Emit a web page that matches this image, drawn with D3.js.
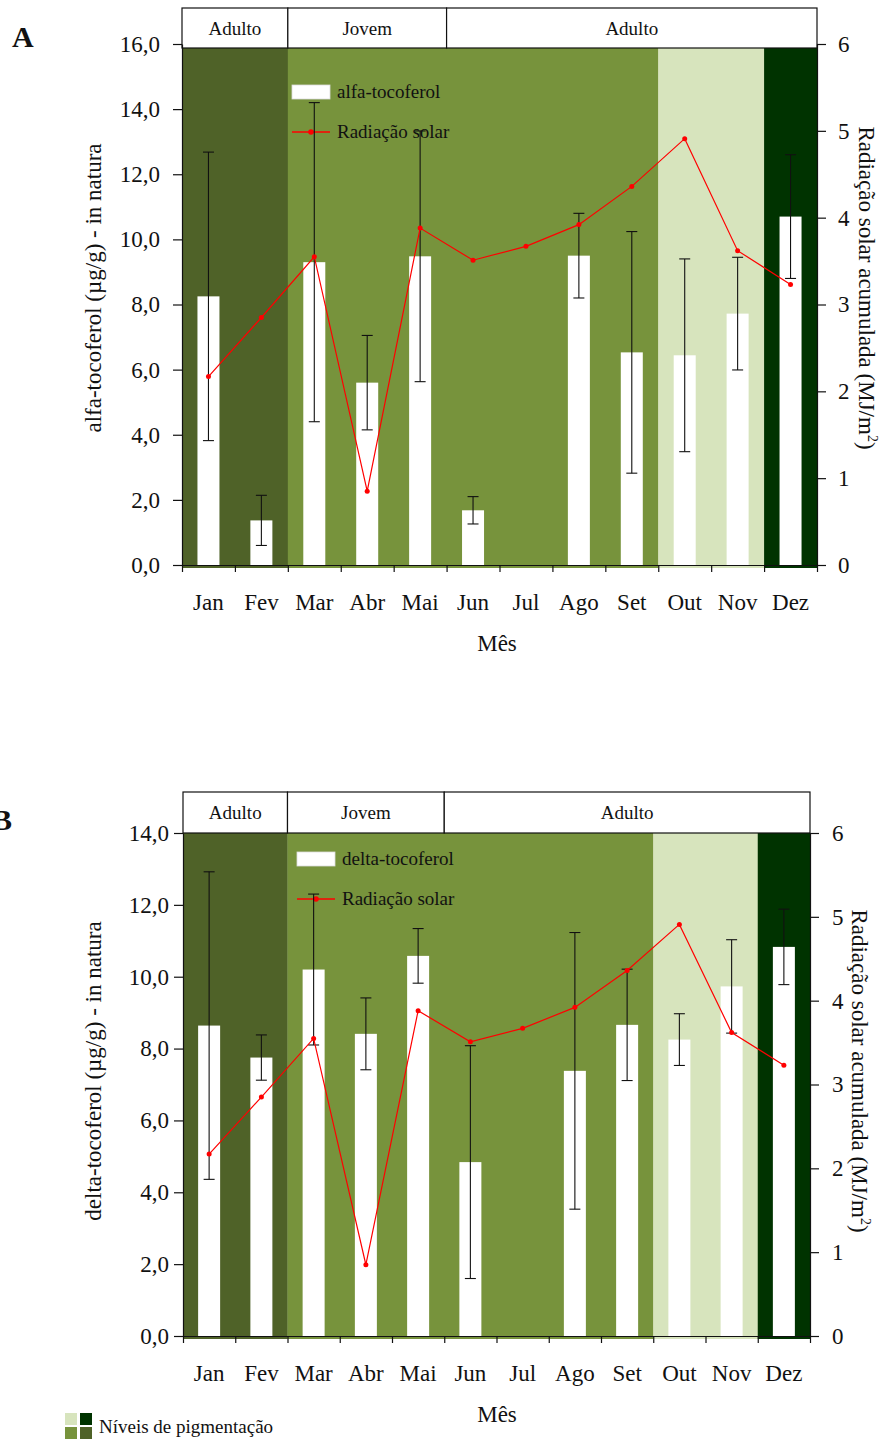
<!DOCTYPE html>
<html>
<head>
<meta charset="utf-8">
<script src="https://cdn.jsdelivr.net/npm/d3@7"></script>
<style>
  body { margin: 0; background: #fff; }
  svg { font-family: "Liberation Serif", "Times New Roman", serif; }
</style>
</head>
<body>
<svg id="chart" width="882" height="1441"></svg>
<script>
// dados
const months = ['Jan','Fev','Mar','Abr','Mai','Jun','Jul','Ago','Set','Out','Nov','Dez'];
const alfaMean  = [8.25, 1.37, 9.30, 5.60, 9.48, 1.68, 0, 9.50, 6.53, 6.44, 7.72, 10.70];
const alfaErr   = [4.43, 0.77, 4.90, 1.45, 3.85, 0.42, 0, 1.30, 3.71, 2.96, 1.73, 1.90];
const deltaMean = [8.64, 7.75, 10.20, 8.41, 10.58, 4.84, 0, 7.38, 8.66, 8.25, 9.73, 10.83];
const deltaErr  = [4.28, 0.63, 2.10, 1.00, 0.76, 3.24, 0, 3.85, 1.55, 0.72, 1.30, 1.05];
const radiacao  = [2.17, 2.85, 3.55, 0.85, 3.88, 3.51, 3.67, 3.92, 4.36, 4.91, 3.62, 3.23];
const pigmento  = [1, 1, 2, 2, 2, 2, 2, 2, 2, 0, 0, 3];
const pigColors = ['#d7e4bd', '#4f6228', '#77933c', '#003300'];
const fases = [
  {nome: 'Adulto', ini: 0, fim: 2},
  {nome: 'Jovem',  ini: 2, fim: 5},
  {nome: 'Adulto', ini: 5, fim: 12}
];
const leftTicksA = [0, 2, 4, 6, 8, 10, 12, 14, 16];
const leftTicksB = [0, 2, 4, 6, 8, 10, 12, 14];
const rightTicks = [0, 1, 2, 3, 4, 5, 6];

const svg = d3.select('#chart');
const fmt = d => d3.format('.1f')(d).replace('.', ',');

// junta meses seguidos com o mesmo nivel
const faixas = [];
pigmento.forEach((p, i) => {
  const last = faixas[faixas.length - 1];
  if (last && last.p === p) last.fim = i + 1;
  else faixas.push({p: p, ini: i, fim: i + 1});
});

function painel(c) {
  const g = svg.append('g');
  const x  = d3.scaleBand().domain(months).range([c.left, c.right]);
  const xb = d3.scaleLinear().domain([0, 12]).range([c.left, c.right]);
  const y  = d3.scaleLinear().domain([0, c.yMax]).range([c.bottom, c.top]);
  const y2 = d3.scaleLinear().domain([0, 6]).range([c.bottom, c.top]);
  const cx = d => x(d) + x.bandwidth() / 2;

  // faixas de pigmentacao
  g.selectAll('.faixa').data(faixas).join('rect')
    .attr('class', 'faixa')
    .attr('x', d => xb(d.ini)).attr('width', d => xb(d.fim) - xb(d.ini) + 0.3)
    .attr('y', c.headBot).attr('height', c.bottom + 3 - c.headBot)
    .attr('fill', d => pigColors[d.p]);

  // barras
  const bw = 22;
  g.selectAll('.barra').data(months).join('rect')
    .attr('class', 'barra')
    .attr('x', d => cx(d) - bw / 2).attr('width', bw)
    .attr('y', (d, i) => y(c.mean[i]))
    .attr('height', (d, i) => c.bottom - y(c.mean[i]))
    .attr('fill', '#fff');

  // legenda
  g.append('rect').attr('x', c.legX).attr('y', c.legY).attr('width', 38).attr('height', 14)
    .attr('fill', '#fff').attr('stroke', '#ddd').attr('stroke-width', 0.8);
  g.append('text').attr('x', c.legX + 45).attr('y', c.legY + 13)
    .attr('font-size', 19).attr('fill', '#111').text(c.nome);
  const ly = c.legY + c.legGap;
  g.append('line').attr('x1', c.legX).attr('x2', c.legX + 38).attr('y1', ly).attr('y2', ly)
    .attr('stroke', '#ff0000').attr('stroke-width', 1.3);
  g.append('circle').attr('cx', c.legX + 19).attr('cy', ly).attr('r', 2.8).attr('fill', '#ff0000');
  g.append('text').attr('x', c.legX + 45).attr('y', ly + 6)
    .attr('font-size', 19).attr('fill', '#111').text('Radiação solar');

  // barras de erro
  const eb = months.map((d, i) => ({m: d, v: c.mean[i], e: c.err[i]})).filter(d => d.e > 0);
  const err = g.selectAll('.erro').data(eb).join('g').attr('class', 'erro')
    .attr('stroke', '#111').attr('stroke-width', 1.1);
  err.append('line').attr('x1', d => cx(d.m)).attr('x2', d => cx(d.m))
    .attr('y1', d => y(d.v - d.e)).attr('y2', d => y(d.v + d.e));
  err.append('line').attr('x1', d => cx(d.m) - 5.5).attr('x2', d => cx(d.m) + 5.5)
    .attr('y1', d => y(d.v + d.e)).attr('y2', d => y(d.v + d.e));
  err.append('line').attr('x1', d => cx(d.m) - 5.5).attr('x2', d => cx(d.m) + 5.5)
    .attr('y1', d => y(d.v - d.e)).attr('y2', d => y(d.v - d.e));

  // radiacao solar
  const linha = d3.line().x((d, i) => cx(months[i])).y(d => y2(d));
  g.append('path').datum(radiacao).attr('d', linha)
    .attr('fill', 'none').attr('stroke', '#ff0000').attr('stroke-width', 1.2);
  g.selectAll('.ponto').data(radiacao).join('circle')
    .attr('class', 'ponto')
    .attr('cx', (d, i) => cx(months[i])).attr('cy', d => y2(d))
    .attr('r', 2.5).attr('fill', '#ff0000');

  // cabecalho
  const cab = g.selectAll('.fase').data(fases).join('g').attr('class', 'fase');
  cab.append('rect')
    .attr('x', d => xb(d.ini)).attr('width', d => xb(d.fim) - xb(d.ini))
    .attr('y', c.headTop).attr('height', c.headBot - c.headTop)
    .attr('fill', '#fff').attr('stroke', '#111').attr('stroke-width', 1.2);
  cab.append('text')
    .attr('x', d => (xb(d.ini) + xb(d.fim)) / 2).attr('y', c.headTop + 27)
    .attr('text-anchor', 'middle').attr('font-size', 19).attr('fill', '#111')
    .text(d => d.nome);

  // eixos
  const estilo = sel => {
    sel.attr('font-family', null).attr('font-size', 23);
    sel.selectAll('text').attr('fill', '#111');
    sel.selectAll('line,path').attr('stroke', '#111').attr('stroke-width', 1.2);
  };
  g.append('g').attr('transform', `translate(${c.left},0)`)
    .call(d3.axisLeft(y).tickValues(c.ticks).tickFormat(fmt).tickSize(9).tickSizeOuter(0).tickPadding(c.padL))
    .call(estilo);
  g.append('g').attr('transform', `translate(${c.right},0)`)
    .call(d3.axisRight(y2).tickValues(rightTicks).tickFormat(d3.format('d')).tickSize(9).tickSizeOuter(0).tickPadding(c.padR))
    .call(estilo);
  g.append('g').attr('transform', `translate(0,${c.bottom})`)
    .call(d3.axisBottom(xb).tickValues(d3.range(0, 13)).tickFormat('').tickSize(7).tickSizeOuter(0))
    .call(estilo);

  g.selectAll('.mes').data(months).join('text')
    .attr('class', 'mes')
    .attr('x', d => cx(d)).attr('y', c.bottom + 45)
    .attr('text-anchor', 'middle').attr('font-size', 23).attr('fill', '#111')
    .text(d => d);

  // titulos
  g.append('text').attr('x', 497).attr('y', c.bottom + 86)
    .attr('text-anchor', 'middle').attr('font-size', 23).attr('fill', '#111').text('Mês');
  g.append('text').attr('transform', `translate(101,${c.midY}) rotate(-90)`)
    .attr('text-anchor', 'middle').attr('font-size', 23).attr('fill', '#111').text(c.titulo);
  const tr = g.append('text').attr('transform', `translate(${c.right + 42},${c.midY}) rotate(90)`)
    .attr('text-anchor', 'middle').attr('font-size', 23).attr('fill', '#111');
  tr.append('tspan').text('Radiação solar acumulada (MJ/m');
  tr.append('tspan').attr('font-size', 14).attr('dy', -9).text('2');
  tr.append('tspan').attr('dy', 9).text(')');

  g.append('text').attr('x', c.tagX).attr('y', c.tagY)
    .attr('font-size', 30).attr('font-weight', 'bold').attr('fill', '#111').text(c.tag);
}

painel({
  left: 182, right: 817, top: 44, bottom: 565, headTop: 8, headBot: 48, yMax: 16,
  ticks: leftTicksA, mean: alfaMean, err: alfaErr, nome: 'alfa-tocoferol',
  titulo: 'alfa-tocoferol (µg/g) - in natura', legX: 292, legY: 85, legGap: 47,
  padL: 13, padR: 12, midY: 288, tag: 'A', tagX: 12, tagY: 47
});
painel({
  left: 183, right: 810, top: 833, bottom: 1336, headTop: 792, headBot: 833, yMax: 14,
  ticks: leftTicksB, mean: deltaMean, err: deltaErr, nome: 'delta-tocoferol',
  titulo: 'delta-tocoferol (µg/g) - in natura', legX: 297, legY: 852, legGap: 47,
  padL: 5, padR: 13, midY: 1071, tag: 'B', tagX: -8, tagY: 830
});

// legenda dos niveis de pigmentacao
const quad = [
  {c: pigColors[0], dx: 0,  dy: 0},
  {c: pigColors[3], dx: 15, dy: 0},
  {c: pigColors[2], dx: 0,  dy: 14},
  {c: pigColors[1], dx: 15, dy: 14}
];
svg.selectAll('.quad').data(quad).join('rect')
  .attr('class', 'quad')
  .attr('x', d => 65 + d.dx).attr('y', d => 1413 + d.dy)
  .attr('width', 12).attr('height', 12).attr('fill', d => d.c);
svg.append('text').attr('x', 99).attr('y', 1433)
  .attr('font-size', 19).attr('fill', '#111').text('Níveis de pigmentação');
</script>
</body>
</html>
